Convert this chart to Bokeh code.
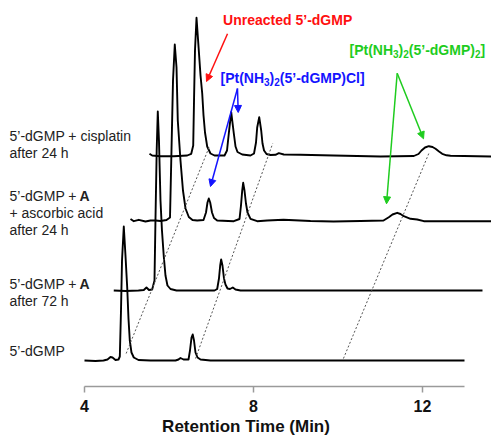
from bokeh.plotting import figure
from bokeh.models import Arrow, NormalHead, FixedTicker, Range1d, Title
from bokeh.embed import file_html
from bokeh.resources import INLINE
from bokeh.core.properties import value

# ---- chromatograms: retention time (min) and signal (a.u.) ----
t_dgmp = [4.000, 4.260, 4.450, 4.544, 4.615, 4.663, 4.734, 4.805, 4.836, 4.864, 4.888, 4.930,
          4.970, 5.011, 5.041, 5.072, 5.112, 5.167, 5.278, 5.562, 6.154, 6.225, 6.272, 6.343,
          6.462, 6.497, 6.533, 6.561, 6.592, 6.627, 6.675, 6.746, 6.982, 12.994]
s_dgmp = [0, -0.5, 0, 1, 3.5, 3, 0.5, 1, 4, 50, 100, 134,
          105, 73, 42, 20, 8, 3, 0.5, 0, 0, 1, 2.5, 1,
          1, 10, 23, 26, 20, 8, 3, 1, 0, 0]

t_a72 = [4.030, 4.307, 4.615, 4.741, 4.804, 4.864, 4.939, 4.994, 5.017, 5.046, 5.072, 5.100,
         5.136, 5.171, 5.214, 5.254, 5.301, 5.373, 5.515, 6.414, 6.478, 6.520, 6.549, 6.572,
         6.603, 6.639, 6.674, 6.722, 6.781, 6.847, 6.911, 7.029, 12.757]
s_a72 = [0, -0.5, 0, 0.5, 3, 0.5, 1, 10, 70, 140, 179, 150,
         90, 60, 34, 15, 5, 1.5, 0, 0, 1.5, 12, 25, 31,
         25, 12, 6, 2, 1.5, 3, 1, 0, 0]

t_asc = [3.773, 3.851, 3.969, 4.128, 4.246, 4.364, 4.483, 4.625, 4.708, 4.743, 4.779, 4.821,
         4.862, 4.892, 4.956, 5.015, 5.075, 5.153, 5.240, 5.351, 5.501, 5.560, 5.595, 5.626,
         5.659, 5.702, 5.749, 5.825, 6.218, 6.353, 6.388, 6.417, 6.440, 6.471, 6.506, 6.542,
         6.613, 6.771, 7.008, 7.394, 8.033, 8.577, 9.217, 9.761, 9.886, 9.974, 10.085, 10.163,
         10.241, 10.400, 10.558, 10.715, 12.317]
s_asc = [2.5, 0.3, 1.7, 0, 1, 1, 0.5, 1.5, 4, 71, 141, 177,
         154, 101, 61, 31, 13, 4.5, 1.5, 1, 1.5, 9, 19, 23,
         19, 9, 3.5, 1, 0.3, 2.5, 16, 31, 38.7, 31, 18, 9,
         2.7, 0.3, 1, 1.7, 0.5, 0, 0.5, 1, 4.3, 7, 8.7, 7.5,
         5.3, 2.7, 2, 0.3, 0.3]

t_cis = [3.607, 3.671, 3.868, 4.183, 4.500, 4.595, 4.642, 4.661, 4.684, 4.720, 4.774, 4.815,
         4.855, 4.886, 4.921, 4.973, 5.051, 5.146, 5.383, 5.442, 5.484, 5.541, 5.603, 5.643,
         5.690, 5.802, 5.998, 6.081, 6.128, 6.156, 6.204, 6.251, 6.282, 6.318, 6.377, 6.471,
         6.590, 6.668, 6.786, 7.181, 7.962, 9.075, 9.863, 9.974, 10.045, 10.128, 10.218, 10.306,
         10.377, 10.460, 10.535, 10.637, 10.732, 11.702]
s_cis = [2.7, 1, 0.3, 0.3, 1, 2.7, 11, 56, 106, 138.7, 106, 81,
         63, 41, 24, 10, 3, 1, 1, 6, 23, 44.3, 23, 10,
         4.5, 2, 1, 3, 14, 29, 39.3, 26, 13, 6, 2.5, 1.5,
         1.7, 3.3, 2, 1.7, 1, 0, 0.5, 2.5, 6, 9, 10.3, 9.5,
         7.7, 5, 2.7, 1.2, 0.7, 0]

traces_t = [t_dgmp, t_a72, t_asc, t_cis]
traces_s = [s_dgmp, s_a72, s_asc, s_cis]
trace_offset = [0, 70, 139, 204]      # vertical stacking of the chromatograms
skew = 0.009467                        # horizontal shift (min) per unit of stacking

# dotted retention-time guides (time at bottom/top, stacking level at bottom/top)
guide_t0 = [4.92, 6.61, 10.11]
guide_t1 = [4.93, 6.40, 10.19]
guide_l0 = [7, 2, 2]
guide_l1 = [214, 217, 208]

# sample labels
label_lines = ["5\u2019-dGMP + cisplatin", "after 24 h",
               "5\u2019-dGMP + ", "+ ascorbic acid", "after 24 h",
               "5\u2019-dGMP + ", "after 72 h",
               "5\u2019-dGMP"]
label_y = [225, 208, 165, 148, 131, 77, 60, 10]
bold_labels = ["A", "A"]
bold_y = [165, 77]

# species annotations
ann_color = ["#ff1010", "#1414ff", "#1ecc1e"]
red_text = "Unreacted 5\u2019-dGMP"
blue_parts = [("[Pt(NH", False), ("3", True), (")", False), ("2", True), ("(5\u2019-dGMP)Cl]", False)]
green_parts = [("[Pt(NH", False), ("3", True), (")", False), ("2", True), ("(5\u2019-dGMP)", False),
               ("2", True), ("]", False)]
red_xy = (8.809, 340.7)
blue_xy = (7.219, 282.3)
green_xy = (10.272, 310.7)
arrow_x0 = [7.385, 7.621, 7.621, 11.401, 11.401]
arrow_y0 = [326.7, 272, 272, 287.3, 287.3]
arrow_x1 = [6.888, 7.638, 6.982, 12.024, 11.148]
arrow_y1 = [279, 248, 174, 221.7, 156.7]
arrow_col = [0, 1, 1, 2, 2]

x_ticks = [4, 8, 12]
x_title = "Retention Time (Min)"

PX_PER_MIN = 42.25
BOLD_W = {'[': .333, 'P': .667, 't': .333, '(': .333, 'N': .722, 'H': .722, ')': .333,
          '5': .556, '\u2019': .278, '-': .333, 'd': .611, 'G': .778, 'M': .833, 'C': .722,
          'l': .278, ']': .333, '2': .556, '3': .556}

p = figure(width=491, height=438, output_backend="svg", toolbar_location=None,
           x_range=Range1d(2.012, 13.633), y_range=Range1d(-26, 360),
           y_axis_location=None, min_border_left=0, min_border_right=0,
           min_border_top=0, min_border_bottom=52)
p.outline_line_color = None
p.xgrid.visible = False
p.ygrid.visible = False
p.background_fill_color = "white"
p.border_fill_color = "white"

for ts, ss, off in zip(traces_t, traces_s, trace_offset):
    xs = [t + skew * off for t in ts]
    ys = [s + off for s in ss]
    p.line(xs, ys, line_color="#000000", line_width=1.9, line_join="round")

p.segment(x0=[t + skew * l for t, l in zip(guide_t0, guide_l0)], y0=guide_l0,
          x1=[t + skew * l for t, l in zip(guide_t1, guide_l1)], y1=guide_l1,
          line_color="#555555", line_width=1, line_dash="2 2")

p.text(x=[2.225] * len(label_lines), y=label_y, text=label_lines,
       text_font=value("Liberation Sans"), text_font_size="14px",
       text_color="#222222", text_align="left", text_baseline="middle")
p.text(x=[3.882] * 2, y=bold_y, text=bold_labels,
       text_font=value("Liberation Sans"), text_font_size="14px", text_font_style="bold",
       text_color="#222222", text_align="left", text_baseline="middle")

p.text(x=[red_xy[0]], y=[red_xy[1]], text=[red_text], text_color=ann_color[0],
       text_font=value("Liberation Sans"), text_font_size="14px", text_font_style="bold",
       text_align="center", text_baseline="middle")


def rich(parts, x0, ybase, color):
    x = x0
    for txt, sub in parts:
        fs = 10 if sub else 14
        p.text(x=[x], y=[ybase - (4 if sub else 0)], text=[txt], text_color=color,
               text_font=value("Liberation Sans"), text_font_size=f"{fs}px",
               text_font_style="bold", text_align="left", text_baseline="alphabetic")
        x += sum(BOLD_W.get(c, .556) for c in txt) * fs / PX_PER_MIN


rich(blue_parts, blue_xy[0], blue_xy[1], ann_color[1])
rich(green_parts, green_xy[0], green_xy[1], ann_color[2])

for x0, y0, x1, y1, c in zip(arrow_x0, arrow_y0, arrow_x1, arrow_y1, arrow_col):
    col = ann_color[c]
    p.add_layout(Arrow(end=NormalHead(size=7, fill_color=col, line_color=col, line_width=1),
                       x_start=x0, y_start=y0, x_end=x1, y_end=y1,
                       line_color=col, line_width=1.5))

ax = p.xaxis[0]
ax.ticker = FixedTicker(ticks=x_ticks)
ax.bounds = (4, 13)
ax.major_label_text_font = "Liberation Sans"
ax.major_label_text_font_style = "bold"
ax.major_label_text_font_size = "16px"
ax.major_label_text_color = "#111111"
ax.major_label_standoff = 7
ax.axis_line_color = "#9a9a9a"
ax.axis_line_width = 1.5
ax.major_tick_line_color = "#9a9a9a"
ax.major_tick_line_width = 1.5
ax.major_tick_out = 6
ax.major_tick_in = 0
ax.minor_tick_line_color = None

p.add_layout(Title(text=x_title, align="center", standoff=0, offset=3,
                   text_font="Liberation Sans", text_font_style="bold",
                   text_font_size="17px", text_color="#111111"), "below")

open("out.html", "w").write(file_html(p, INLINE))
